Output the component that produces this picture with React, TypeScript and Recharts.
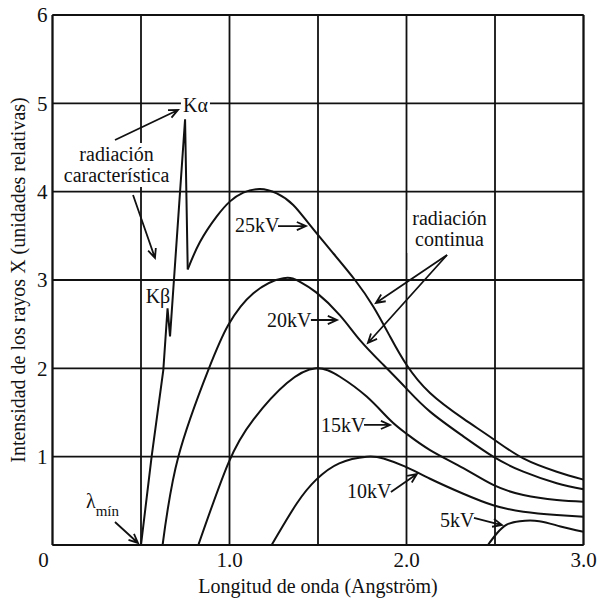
import React from 'react'
import {
  LineChart,
  Line,
  XAxis,
  YAxis,
  CartesianGrid,
  ReferenceDot,
  ReferenceLine,
  Label,
} from 'recharts'

const FONT = '"Liberation Serif", "DejaVu Serif", serif'
const INK = '#111'

const X_TICKS = [0, 0.5, 1, 1.5, 2, 2.5, 3]
const Y_TICKS = [0, 1, 2, 3, 4, 5, 6]

// 25 kV rising edge with the Kβ and Kα lines (drawn as straight segments)
const kv25EdgeX = [0.5, 0.56, 0.626, 0.65, 0.664, 0.749, 0.764]
const kv25EdgeY = [0, 1, 1.98, 2.68, 2.36, 4.82, 3.12]

// continuous spectra
const kv25X = [0.764, 0.833, 0.928, 1.003, 1.078, 1.172, 1.267, 1.36, 1.455, 1.587, 1.709, 1.812, 1.907, 2.0, 2.133, 2.321, 2.49, 2.66, 2.849, 3.0]
const kv25Y = [3.12, 3.43, 3.72, 3.89, 3.99, 4.03, 3.98, 3.85, 3.62, 3.3, 3.0, 2.7, 2.36, 2.04, 1.72, 1.43, 1.2, 0.98, 0.83, 0.74]

const kv20X = [0.622, 0.711, 0.88, 0.993, 1.135, 1.304, 1.398, 1.49, 1.624, 1.737, 1.869, 2.0, 2.133, 2.321, 2.49, 2.66, 2.849, 3.0]
const kv20Y = [0, 1.0, 1.98, 2.49, 2.85, 3.02, 2.98, 2.86, 2.6, 2.32, 2.04, 1.77, 1.51, 1.23, 1.0, 0.83, 0.7, 0.63]

const kv15X = [0.824, 0.993, 1.135, 1.323, 1.49, 1.624, 1.775, 1.907, 2.0, 2.133, 2.321, 2.49, 2.66, 2.849, 3.0]
const kv15Y = [0, 0.925, 1.42, 1.83, 2.0, 1.905, 1.68, 1.415, 1.26, 1.075, 0.87, 0.68, 0.566, 0.51, 0.49]

const kv10X = [1.238, 1.38, 1.49, 1.62, 1.775, 1.87, 1.99, 2.133, 2.321, 2.49, 2.66, 2.849, 3.0]
const kv10Y = [0, 0.47, 0.74, 0.925, 1.0, 0.98, 0.89, 0.75, 0.58, 0.45, 0.377, 0.34, 0.32]

const kv5X = [2.46, 2.51, 2.566, 2.64, 2.75, 2.87, 3.0]
const kv5Y = [0, 0.13, 0.23, 0.27, 0.27, 0.21, 0.15]

const toPoints = (xs: number[], ys: number[]) => xs.map((x, i) => ({ x, y: ys[i] }))

// text notes, anchored in data units; bg = white box behind (relative px)
type Note = {
  lines: string[]
  x: number
  y: number
  anchor: 'start' | 'middle'
  bg?: [number, number, number, number]
}

const NOTES: Note[] = [
  { lines: ['Kα'], x: 0.737, y: 4.9, anchor: 'start', bg: [-2, -15, 29, 19] },
  { lines: ['radiación', 'característica'], x: 0.362, y: 4.347, anchor: 'middle', bg: [-56, -18, 112, 44] },
  { lines: ['Kβ'], x: 0.596, y: 2.74, anchor: 'middle' },
  { lines: ['25kV'], x: 1.031, y: 3.54, anchor: 'start' },
  { lines: ['20kV'], x: 1.212, y: 2.468, anchor: 'start' },
  { lines: ['15kV'], x: 1.517, y: 1.279, anchor: 'start' },
  { lines: ['10kV'], x: 1.664, y: 0.532, anchor: 'start' },
  { lines: ['5kV'], x: 2.189, y: 0.204, anchor: 'start' },
  { lines: ['radiación', 'continua'], x: 2.243, y: 3.623, anchor: 'middle', bg: [-42, -15, 84, 43] },
]

// arrows: [fromX, fromY, toX, toY] in data units
const ARROWS: [number, number, number, number][] = [
  [0.353, 4.585, 0.709, 4.925],
  [0.455, 3.962, 0.579, 3.249],
  [0.353, 0.26, 0.483, 0.023],
  [1.274, 3.61, 1.432, 3.61],
  [1.46, 2.547, 1.607, 2.547],
  [1.76, 1.359, 1.907, 1.359],
  [1.912, 0.6, 2.059, 0.804],
  [2.381, 0.306, 2.539, 0.226],
  [2.229, 3.283, 1.827, 2.74],
  [2.229, 3.283, 1.782, 2.287],
]

const Arrow = (p: any) => {
  const { x1, y1, x2, y2 } = p
  const a = Math.atan2(y2 - y1, x2 - x1)
  const h = 10
  const w = 0.42
  const ax = x2 - h * Math.cos(a - w)
  const ay = y2 - h * Math.sin(a - w)
  const bx = x2 - h * Math.cos(a + w)
  const by = y2 - h * Math.sin(a + w)
  return (
    <path
      d={`M${x1},${y1}L${x2},${y2}M${ax},${ay}L${x2},${y2}L${bx},${by}`}
      stroke={INK}
      strokeWidth={1.8}
      fill="none"
    />
  )
}

const renderNote = (note: Note) => (p: any) => {
  const { cx, cy } = p
  return (
    <g>
      {note.bg && (
        <rect x={cx + note.bg[0]} y={cy + note.bg[1]} width={note.bg[2]} height={note.bg[3]} fill="#fff" />
      )}
      <text x={cx} y={cy} textAnchor={note.anchor} fontFamily={FONT} fontSize={20} fill={INK}>
        {note.lines.map((l, i) => (
          <tspan key={i} x={cx} dy={i === 0 ? 0 : 21}>
            {l}
          </tspan>
        ))}
      </text>
    </g>
  )
}

const lambdaMin = (p: any) => (
  <text x={p.cx} y={p.cy} fontFamily={FONT} fontSize={20} fill={INK}>
    λ
    <tspan fontSize={15} dy={8}>
      mín
    </tspan>
  </text>
)

const XTick = (p: any) => {
  const v = p.payload.value
  if (v % 1 !== 0) return <g />
  return (
    <text x={v === 0 ? p.x - 9 : p.x} y={p.y} dy={14} textAnchor="middle" fontFamily={FONT} fontSize={21} fill={INK}>
      {v === 0 ? '0' : v.toFixed(1)}
    </text>
  )
}

const curves = [
  { key: 'kv25', pts: toPoints(kv25X, kv25Y) },
  { key: 'kv20', pts: toPoints(kv20X, kv20Y) },
  { key: 'kv15', pts: toPoints(kv15X, kv15Y) },
  { key: 'kv10', pts: toPoints(kv10X, kv10Y) },
  { key: 'kv5', pts: toPoints(kv5X, kv5Y) },
]

export default function App() {
  return (
    <div style={{ position: 'absolute', left: 0, top: 0, width: 598, height: 599, background: '#fff' }}>
      <LineChart width={598} height={599} margin={{ top: 15, right: 14.5, left: 0, bottom: 0 }}>
        <CartesianGrid stroke={INK} strokeWidth={1.8} />
        <XAxis
          type="number"
          dataKey="x"
          domain={[0, 3]}
          ticks={X_TICKS}
          height={54}
          tickSize={0}
          tickMargin={8}
          tick={<XTick />}
          axisLine={{ stroke: INK, strokeWidth: 1.8 }}
        >
          <Label
            content={(props: any) => {
              const vb = props.viewBox
              return (
                <text x={vb.x + vb.width / 2} y={vb.y + 48} textAnchor="middle" fontFamily={FONT} fontSize={20} fill={INK}>
                  Longitud de onda (Angström)
                </text>
              )
            }}
          />
        </XAxis>
        <YAxis
          type="number"
          dataKey="y"
          domain={[0, 6]}
          ticks={Y_TICKS}
          width={52.5}
          tickSize={0}
          tickMargin={5}
          tickFormatter={(v: number) => (v === 0 ? '' : String(v))}
          tick={{ fill: INK, fontSize: 21, fontFamily: FONT }}
          axisLine={{ stroke: INK, strokeWidth: 1.8 }}
        >
          <Label
            content={(props: any) => {
              const vb = props.viewBox
              return (
                <text
                  transform={`translate(${vb.x + 25},${vb.y + vb.height / 2}) rotate(-90)`}
                  textAnchor="middle"
                  fontFamily={FONT}
                  fontSize={20}
                  fill={INK}
                >
                  Intensidad de los rayos X (unidades relativas)
                </text>
              )
            }}
          />
        </YAxis>
        <ReferenceLine x={3} stroke={INK} strokeWidth={1.8} />
        <ReferenceLine y={6} stroke={INK} strokeWidth={1.8} />

        {NOTES.map((n, i) => (
          <ReferenceDot key={`n${i}`} x={n.x} y={n.y} r={0} ifOverflow="visible" shape={renderNote(n)} />
        ))}
        <ReferenceDot x={0.189} y={0.419} r={0} ifOverflow="visible" shape={lambdaMin} />
        {ARROWS.map((a, i) => (
          <ReferenceLine
            key={`a${i}`}
            segment={[
              { x: a[0], y: a[1] },
              { x: a[2], y: a[3] },
            ]}
            ifOverflow="visible"
            shape={Arrow}
          />
        ))}

        <Line
          data={toPoints(kv25EdgeX, kv25EdgeY)}
          dataKey="y"
          type="linear"
          stroke={INK}
          strokeWidth={2}
          dot={false}
          isAnimationActive={false}
        />
        {curves.map((c) => (
          <Line
            key={c.key}
            data={c.pts}
            dataKey="y"
            type="natural"
            stroke={INK}
            strokeWidth={2}
            dot={false}
            isAnimationActive={false}
          />
        ))}
      </LineChart>
    </div>
  )
}
